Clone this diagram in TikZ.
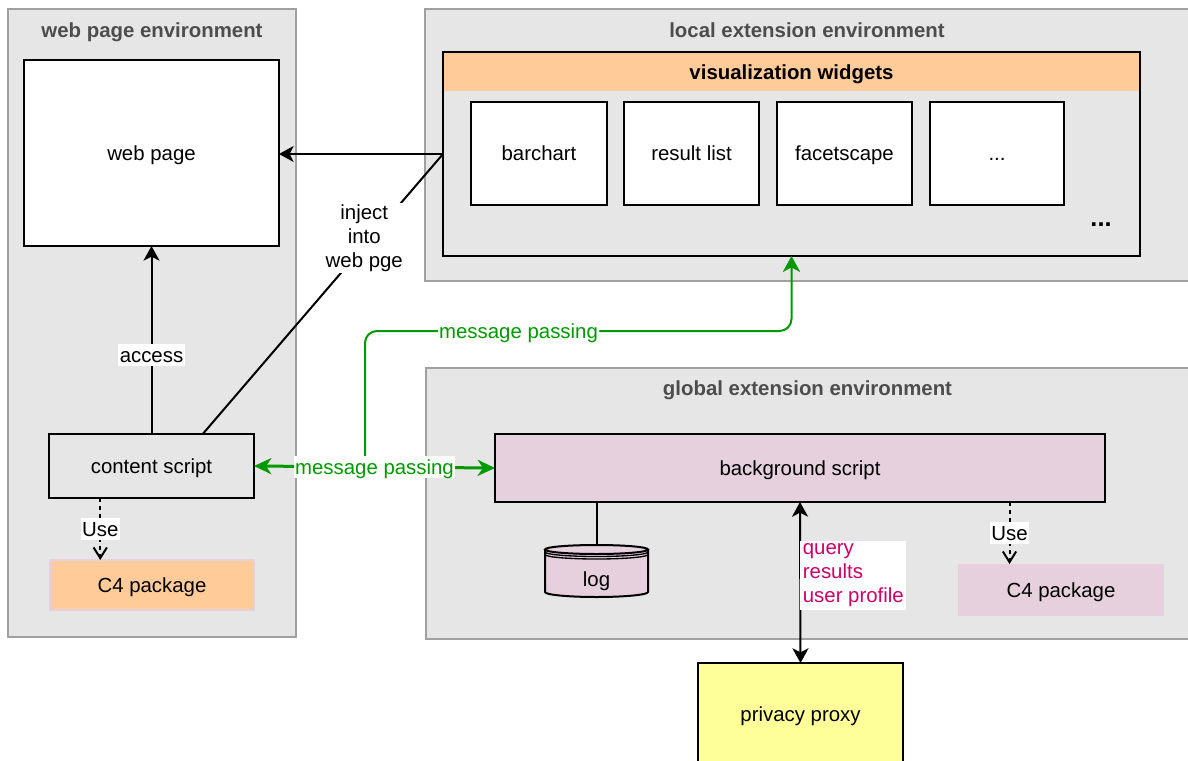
\documentclass[tikz,border=0pt]{standalone}
\usepackage{fontspec}
\setmainfont{Liberation Sans}
\usetikzlibrary{
  arrows.meta,
  calc,
  positioning
}

\definecolor{panelgray}{HTML}{E6E6E6}
\definecolor{panelline}{HTML}{A0A0A0}
\definecolor{titlegray}{HTML}{4D4D4D}
\definecolor{peach}{HTML}{FFCC99}
\definecolor{mauve}{HTML}{E6D0DE}
\definecolor{lemon}{HTML}{FFFF99}
\definecolor{msggreen}{HTML}{009900}
\definecolor{querypink}{HTML}{CC0066}

\newcommand\diagfont{\fontsize{15.3pt}{18pt}\selectfont}

\tikzset{
  px size/.style 2 args={minimum width=#1*0.75pt, minimum height=#2*0.75pt},
  panel/.style={draw=panelline, fill=panelgray, line width=1.5pt},
  env title/.style={font=\diagfont\bfseries, text=titlegray},
  plain box/.style={draw, line width=1.5pt, fill=white},
  many lines/.style={text height={}, text depth={}},
  link/.style={-{Stealth[length=11pt, width=12pt, inset=3pt]}},
  link both/.style={{Stealth[length=11pt, width=12pt, inset=3pt]}-{Stealth[length=11pt, width=12pt, inset=3pt]}},
  uses/.style={dash pattern=on 3pt off 3pt, -{Straight Barb[length=8pt, width=10pt]}},
  use label/.style={fill=white, inner sep=1pt},
  msg line/.style={draw=msggreen, line width=1.5pt},
  msg both/.style={draw=msggreen, line width=2.25pt, {Stealth[length=13pt, width=12pt, inset=4pt]}-{Stealth[length=13pt, width=12pt, inset=4pt]}},
  msg label/.style={fill=white, text=msggreen, inner sep=1pt}
}

\begin{document}
\begin{tikzpicture}[x=0.75pt, y=-0.75pt, font=\diagfont, inner sep=0pt, outer sep=0pt, line width=1.5pt, text height=13pt, text depth=2pt]
  \useasboundingbox (0,0) rectangle (1188,760);

  \node[panel, px size={288}{628}] (web env) at (152,323) {};
  \node[env title] (web env title) at ($(web env.north)+(0,21)$) {web page environment};
  \node[panel, px size={764}{272}] (local env) at (807,145) {};
  \node[env title] (local env title) at ($(local env.north)+(0,21)$) {local extension environment};
  \node[panel, px size={763}{271}] (global env) at (807.5,503.5) {};
  \node[env title] (global env title) at ($(global env.north)+(0,20)$) {global extension environment};

  \node[plain box, px size={255}{186}] (web page) at (151.5,153) {web page};
  \node[plain box, fill=panelgray, px size={205}{64}] (content script) at (151.5,466) {content script};
  \node[fill=peach, draw=mauve, line width=1pt, px size={204}{50}] (c4 left) at (152,585) {C4 package};

  \node[fill=panelgray, px size={697}{204}] (widgets) at (791.5,154) {};
  \node[fill=peach, px size={695}{38}, font=\diagfont\bfseries, anchor=north] (widgets head) at ($(widgets.north)+(0,1)$) {visualization widgets};
  \draw (widgets.north west) rectangle (widgets.south east);
  \node[plain box, px size={136}{103}] (barchart) at (539,153.5) {barchart};
  \node[plain box, px size={135}{103}] (result list) at (691.5,153.5) {result list};
  \node[plain box, px size={135}{103}] (facetscape) at (844.5,153.5) {facetscape};
  \node[plain box, px size={134}{103}] (more widgets) at (997,153.5) {...};
  \node[font=\fontsize{19pt}{22pt}\selectfont\bfseries] (more dots) at (1101,219) {...};

  \node[plain box, fill=mauve, px size={610}{68}] (background script) at (800,468) {background script};
  \node[fill=mauve, px size={206}{52}] (c4 right) at (1061,590) {C4 package};
  \node[plain box, fill=lemon, px size={205}{102}] (privacy proxy) at (800.5,714) {privacy proxy};

  \fill[mauve] (545,549.5) -- (545,592) arc[start angle=180, end angle=360, x radius=38.625pt, y radius=3.75pt] -- (648,549.5) -- cycle;
  \draw[fill=mauve] (596.5,549.5) ellipse[x radius=38.625pt, y radius=3.375pt];
  \draw (545,549.5) -- (545,592) arc[start angle=180, end angle=360, x radius=38.625pt, y radius=3.75pt] -- (648,549.5);
  \draw[line width=1pt] (545,552) arc[start angle=180, end angle=360, x radius=38.625pt, y radius=3.375pt];
  \draw[line width=1pt] (545,554.5) arc[start angle=180, end angle=360, x radius=38.625pt, y radius=3.375pt];
  \node (log) at (596.5,579) {log};
  \coordinate (log top) at (596.5,545);

  \coordinate (inject start) at ($(content script.north)!0.5!(content script.north east)$);
  \coordinate (use left) at ($(content script.south west)!0.25!(content script.south east)$);
  \coordinate (use right) at ($(c4 right.north west)!0.25!(c4 right.north east)$);
  \coordinate (msg split) at (365,466);

  \draw[link] (widgets.west) -- (web page.east |- widgets.west);
  \draw[link] (content script.north) -- node[pos=0.42, fill=white, inner sep=1pt] {access} (web page.south);
  \draw (inject start) -- node[pos=0.7, xshift=-5pt, many lines, fill=white, align=center, inner sep=1pt] {inject\\into\\web pge} (widgets.west);
  \draw[uses] (use left) -- node[use label] {Use} (use left |- c4 left.north);
  \draw[uses] (use right |- background script.south) -- node[use label] {Use} (use right);
  \draw (log top |- background script.south) -- (log top);
  \draw[link both] (background script.south) -- node[pos=0.455, anchor=west, many lines, fill=white, align=left, text=querypink, inner sep=2pt] {query\\results\\user profile} (privacy proxy.north);

  \draw[msg line, -{Stealth[length=12pt, width=13pt, inset=3.5pt]}, rounded corners=9pt] (msg split) |- node[msg label, pos=0.68] {message passing} ($(widgets.south)+(0,75)$) -- (widgets.south);
  \draw[msg both] (content script.east) -- node[msg label] {message passing} (background script.west);
\end{tikzpicture}
\end{document}
